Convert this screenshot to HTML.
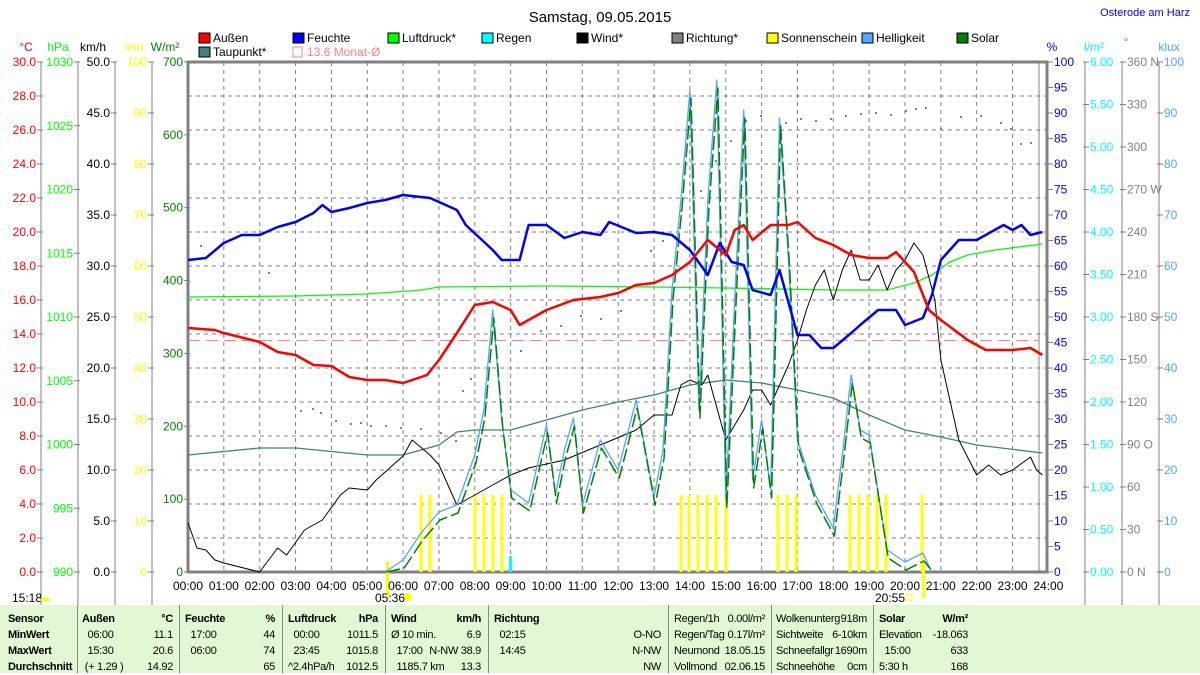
<!DOCTYPE html>
<html><head><meta charset="utf-8"><style>
body{margin:0;background:#fff;width:1200px;height:673px;overflow:hidden;font-family:"Liberation Sans",sans-serif}
svg{display:block}
text{font-family:"Liberation Sans",sans-serif;font-size:12px}
.tb{position:absolute;top:605px;left:0;width:1200px;height:68px;background:#e2f8d2}
.c{position:absolute;font-family:"Liberation Sans",sans-serif;font-size:11px;letter-spacing:-0.3px;line-height:16px;white-space:pre}
.b{font-weight:bold}
.sep{position:absolute;top:605px;height:68px;width:1px;background:#888}
</style></head><body>
<svg width="1200" height="605" viewBox="0 0 1200 605" style="position:absolute;top:0;left:0">
<text x="600" y="22" font-size="15" text-anchor="middle" style="font-size:15px">Samstag, 09.05.2015</text>
<text x="1190" y="16" fill="#0000ff" text-anchor="end" style="font-size:11px">Osterode am Harz</text>
<g font-size="12">
<rect x="199" y="33" width="11" height="10" fill="#f00" stroke="#000"/><text x="213" y="42">Außen</text>
<rect x="293" y="33" width="11" height="10" fill="#00f" stroke="#000"/><text x="307" y="42">Feuchte</text>
<rect x="388" y="33" width="11" height="10" fill="#0f0" stroke="#000"/><text x="402" y="42">Luftdruck*</text>
<rect x="482" y="33" width="11" height="10" fill="#0ff" stroke="#000"/><text x="496" y="42">Regen</text>
<rect x="577" y="33" width="11" height="10" fill="#000" stroke="#000"/><text x="591" y="42">Wind*</text>
<rect x="672" y="33" width="11" height="10" fill="#808080" stroke="#000"/><text x="686" y="42">Richtung*</text>
<rect x="767" y="33" width="11" height="10" fill="#ff0" stroke="#000"/><text x="781" y="42">Sonnenschein</text>
<rect x="862" y="33" width="11" height="10" fill="#4ea6ff" stroke="#000"/><text x="876" y="42">Helligkeit</text>
<rect x="957" y="33" width="11" height="10" fill="#008000" stroke="#000"/><text x="971" y="42">Solar</text>
<rect x="199" y="47" width="11" height="10" fill="#408080" stroke="#000"/><text x="213" y="56">Taupunkt*</text>
<rect x="293" y="47" width="9" height="10" fill="none" stroke="#ff8080"/><text x="307" y="56" fill="#ff8080">13.6 Monat-Ø</text>
</g>
<text x="26" y="51" fill="#f00" text-anchor="middle">°C</text>
<text x="58" y="51" fill="#0f0" text-anchor="middle">hPa</text>
<text x="93" y="51" text-anchor="middle">km/h</text>
<text x="134" y="51" fill="#ff0" text-anchor="middle">min</text>
<text x="165" y="51" fill="#008000" text-anchor="middle">W/m²</text>
<text x="1052" y="51" fill="#00f" text-anchor="middle">%</text>
<text x="1094" y="51" fill="#0ff" text-anchor="middle">l/m²</text>
<text x="1126" y="46" fill="#808080" text-anchor="middle">°</text>
<text x="1169" y="51" fill="#4ea6ff" text-anchor="middle">klux</text>
<g stroke="#808080" stroke-width="1">
<line x1="41" y1="62" x2="41" y2="605"/><line x1="78" y1="62" x2="78" y2="605"/><line x1="115" y1="62" x2="115" y2="605"/><line x1="152" y1="62" x2="152" y2="605"/>
<line x1="1085" y1="62" x2="1085" y2="605"/><line x1="1122" y1="62" x2="1122" y2="605"/><line x1="1159" y1="62" x2="1159" y2="605"/>
</g>
<g id="ticks" font-size="12"></g>
<g stroke="#808080" stroke-dasharray="4,4" id="grid"></g>
<rect x="188" y="62" width="859" height="510" fill="none" stroke="#808080" stroke-width="3"/>
<line x1="1039" y1="62" x2="1039" y2="572" stroke="#808080"/>
<line x1="188" y1="340.5" x2="1039" y2="340.5" stroke="#ff8080" stroke-dasharray="12,6"/>
<g id="dots" fill="#808080"></g>
<g id="bars" fill="#ff0"></g>
<rect x="509" y="556" width="3" height="16" fill="#0ff"/>
<g id="lines" fill="none"></g>
<g id="xl" font-size="12" text-anchor="middle"></g>
<text x="390" y="602" text-anchor="middle">05:36</text><circle cx="408" cy="597" r="4" fill="#ff0"/>
<text x="890" y="602" text-anchor="middle">20:55</text><rect x="906" y="594" width="6" height="6" fill="none" stroke="#ff0"/>
<text x="12" y="602">15:18</text><path d="M40 601 a5 4 0 0 1 10 0z" fill="#ff0"/>
</svg>
<div class="tb"></div>
<div class="sep" style="left:77px"></div><div class="sep" style="left:179px"></div><div class="sep" style="left:282px"></div><div class="sep" style="left:385px"></div><div class="sep" style="left:488px"></div><div class="sep" style="left:668px"></div><div class="sep" style="left:771px"></div><div class="sep" style="left:873px"></div>
<div class="c b" style="left:8px;top:611px">Sensor<br>MinWert<br>MaxWert<br>Durchschnitt</div>
<div class="c" style="left:82px;top:611px"><b>Außen</b><br>  06:00<br>  15:30<br> (+ 1.29 )</div>
<div class="c" style="left:123px;top:611px;text-align:right;width:50px"><b>°C</b><br>11.1<br>20.6<br>14.92</div>
<div class="c" style="left:185px;top:611px"><b>Feuchte</b><br>  17:00<br>  06:00</div>
<div class="c" style="left:227px;top:611px;text-align:right;width:48px"><b>%</b><br>44<br>74<br>65</div>
<div class="c" style="left:288px;top:611px"><b>Luftdruck</b><br>  00:00<br>  23:45<br>^2.4hPa/h</div>
<div class="c" style="left:327px;top:611px;text-align:right;width:51px"><b>hPa</b><br>1011.5<br>1015.8<br>1012.5</div>
<div class="c" style="left:391px;top:611px"><b>Wind</b><br>Ø 10 min.<br>  17:00<br>  1185.7 km</div>
<div class="c" style="left:408px;top:611px;text-align:right;width:73px"><b>km/h</b><br>6.9<br>N-NW 38.9<br>13.3</div>
<div class="c" style="left:494px;top:611px"><b>Richtung</b><br>  02:15<br>  14:45</div>
<div class="c" style="left:609px;top:611px;text-align:right;width:52px"><br>O-NO<br>N-NW<br>NW</div>
<div class="c" style="left:674px;top:611px">Regen/1h<br>Regen/Tag<br>Neumond<br>Vollmond</div>
<div class="c" style="left:715px;top:611px;text-align:right;width:50px">0.00l/m²<br>0.17l/m²<br>18.05.15<br>02.06.15</div>
<div class="c" style="left:776px;top:611px">Wolkenunterg<br>Sichtweite<br>Schneefallgr<br>Schneehöhe</div>
<div class="c" style="left:819px;top:611px;text-align:right;width:48px">918m<br>6-10km<br>1690m<br>0cm</div>
<div class="c" style="left:879px;top:611px"><b>Solar</b><br>Elevation<br>  15:00<br>5:30 h</div>
<div class="c" style="left:915px;top:611px;text-align:right;width:53px"><b>W/m²</b><br>-18.063<br>633<br>168</div>
<script>
var NS="http://www.w3.org/2000/svg";
function el(p,t,a,txt){var e=document.createElementNS(NS,t);for(var k in a)e.setAttribute(k,a[k]);if(txt!=null)e.textContent=txt;document.getElementById(p).appendChild(e);return e;}
var X=function(h){return 188+h*35.85};
for(var h=1;h<24;h++)el('grid','line',{x1:X(h),y1:62,x2:X(h),y2:572});
for(var y=96;y<572;y+=34)el('grid','line',{x1:188,y1:y,x2:1047,y2:y});
for(var h=0;h<=24;h++)el('xl','text',{x:X(h),y:590},(h<10?'0':'')+h+':00');
function ax(x,vals,col,top,bot){for(var i=0;i<vals.length;i++){var y=top+(bot-top)*i/(vals.length-1);el('ticks','line',{x1:x-4,y1:y,x2:x+2,y2:y,stroke:'#808080'});el('ticks','text',{x:x-5,y:y+4,fill:col,'text-anchor':'end'},vals[i]);}}
function rax(x,vals,col,top,bot){for(var i=0;i<vals.length;i++){var y=top+(bot-top)*i/(vals.length-1);el('ticks','line',{x1:x-2,y1:y,x2:x+4,y2:y,stroke:'#808080'});el('ticks','text',{x:x+5,y:y+4,fill:col},vals[i]);}}
var a=[];for(var v=30;v>=0;v-=2)a.push(v.toFixed(1));ax(41,a,'#f00',62,572);
a=[];for(var v=1030;v>=990;v-=5)a.push(v);ax(78,a,'#0f0',62,572);
a=[];for(var v=50;v>=0;v-=5)a.push(v.toFixed(1));ax(115,a,'#000',62,572);
a=[];for(var v=100;v>=0;v-=10)a.push(v);ax(152,a,'#ff0',62,572);
a=[];for(var v=700;v>=0;v-=100)a.push(v);ax(188,a,'#008000',62,572);
a=[];for(var v=100;v>=0;v-=5)a.push(v);rax(1049,a,'#00f',62,572);
a=[];for(var v=6;v>=0;v-=0.5)a.push(v.toFixed(2));rax(1085,a,'#0ff',62,572);
a=['360 N','330','300','270 W','240','210','180 S','150','120','90  O','60','30','0   N'];rax(1122,a,'#808080',62,572);
a=[];for(var v=100;v>=0;v-=10)a.push(v);rax(1159,a,'#4ea6ff',62,572);
function pl(pts,col,w,dash){var s=pts.map(function(p){return X(p[0]).toFixed(1)+','+p[1]}).join(' ');var o={points:s,stroke:col,'stroke-width':w,'stroke-linejoin':'round'};if(dash)o['stroke-dasharray']=dash;el('lines','polyline',o);}
function hm(s){var p=s.split(':');return +p[0]+p[1]/60;}
function P(arr){var r=[];for(var i=0;i<arr.length;i+=2)r.push([hm(arr[i]),arr[i+1]]);return r;}
pl(P(['0:00',455,'2:00',448,'3:00',448,'5:00',455,'6:00',455,'7:00',445,'7:30',432,'8:00',430,'9:00',430,'10:00',420,'11:00',410,'12:00',402,'13:00',395,'14:00',385,'15:00',380,'16:00',383,'17:00',390,'18:00',398,'19:00',415,'20:00',430,'21:00',437,'22:00',445,'23:50',453]),'#408080',1.3);
pl(P(['0:00',297,'3:00',296,'5:00',294,'6:30',290,'7:00',287,'10:00',286,'13:00',287,'15:00',288,'18:00',290,'19:30',290,'20:15',283,'20:45',275,'21:15',262,'21:45',255,'22:30',250,'23:50',244]),'#00ff00',1.3);
pl(P(['0:00',523,'0:15',548,'0:30',550,'0:45',560,'1:00',563,'2:00',572,'2:30',548,'2:45',555,'3:15',530,'3:45',520,'4:15',495,'4:30',488,'5:00',490,'5:15',480,'6:00',456,'6:15',440,'6:45',455,'7:00',465,'7:30',505,'8:30',485,'9:00',475,'9:30',468,'10:30',460,'11:30',445,'12:30',430,'13:00',415,'13:30',415,'13:45',385,'14:00',380,'14:20',385,'14:30',375,'15:00',440,'15:30',410,'15:45',390,'16:00',390,'16:15',405,'16:45',365,'17:00',340,'17:15',310,'17:30',285,'17:45',270,'18:00',300,'18:15',270,'18:30',250,'18:45',280,'19:00',280,'19:15',265,'19:30',290,'19:45',270,'20:00',260,'20:15',243,'20:30',255,'20:50',300,'21:00',360,'21:30',440,'22:00',475,'22:20',465,'22:40',475,'23:00',470,'23:30',457,'23:40',470,'23:50',475]),'#000',1);
var sol=P(['5:30',572,'6:00',560,'6:30',533,'7:00',512,'7:30',505,'8:00',455,'8:15',410,'8:30',310,'8:45',420,'9:00',490,'9:30',503,'10:00',425,'10:15',495,'10:30',450,'10:45',418,'11:00',505,'11:30',440,'12:00',470,'12:30',400,'13:00',497,'13:15',450,'13:30',290,'13:45',200,'14:00',90,'14:15',410,'14:30',200,'14:45',80,'15:00',500,'15:15',300,'15:30',110,'15:45',480,'16:00',420,'16:15',490,'16:30',118,'16:45',260,'17:00',440,'17:30',495,'18:00',528,'18:15',455,'18:30',375,'18:45',430,'19:00',435,'19:30',550,'20:00',562,'20:30',553,'20:45',572]);
pl(sol,'#4ea6ff',1.3);
pl(sol.map(function(p){return [p[0]+0.03,Math.min(572,p[1]+8)]}),'#008000',1.5,'14,4');
pl(P(['0:00',260,'0:30',258,'1:00',243,'1:30',235,'2:00',235,'2:30',227,'3:00',222,'3:30',213,'3:45',205,'4:00',212,'4:30',208,'5:00',203,'5:30',200,'6:00',195,'6:45',198,'7:30',210,'7:45',225,'8:30',250,'8:45',260,'9:15',260,'9:30',225,'10:00',225,'10:30',238,'11:00',232,'11:30',235,'11:45',222,'12:30',233,'13:00',232,'13:30',235,'14:00',250,'14:30',275,'14:50',243,'15:10',262,'15:30',265,'15:45',290,'16:15',295,'16:30',270,'17:00',335,'17:20',335,'17:40',348,'18:00',348,'18:30',333,'18:45',325,'19:15',310,'19:45',310,'20:00',325,'20:30',318,'20:45',295,'21:00',260,'21:30',240,'22:00',240,'22:30',230,'22:45',225,'23:00',230,'23:15',225,'23:30',235,'23:50',232]),'#0000ff',2.5);
pl(P(['0:00',328,'0:45',330,'1:00',333,'2:00',342,'2:30',352,'3:00',355,'3:30',365,'4:00',366,'4:30',377,'5:00',380,'5:30',380,'6:00',383,'6:40',375,'7:00',360,'7:30',333,'8:00',305,'8:30',302,'9:00',310,'9:15',325,'10:00',310,'10:45',300,'11:30',297,'12:00',293,'12:30',285,'13:00',283,'13:30',275,'14:00',262,'14:30',240,'15:00',255,'15:15',230,'15:30',225,'15:45',240,'16:15',225,'16:45',225,'17:00',222,'17:30',238,'18:00',245,'18:30',255,'19:00',258,'19:30',258,'19:45',252,'20:15',272,'20:40',310,'21:00',320,'21:45',340,'22:15',350,'23:00',350,'23:30',348,'23:50',355]),'#ff0000',2.5);
[421,430,475,484,493,502,681,689,698,707,716,726,778,787,796,850,859,868,877,886,922].forEach(function(x){el('bars','rect',{x:x-1.5,y:495,width:3,height:77});});
el('bars','rect',{x:386,y:562,width:3,height:36});
el('bars','rect',{x:922,y:562,width:3,height:36});
var d=[[300,410],[312,408],[320,412],[335,420],[350,423],[360,422],[370,425],[385,425],[400,427],[420,428],[440,432],[455,440],[462,390],[470,378],[520,350],[540,330],[560,325],[580,315],[600,318],[620,310],[650,250],[662,240],[680,210],[700,190],[715,160],[730,140],[745,120],[760,115],[785,122],[800,118],[815,120],[830,118],[845,115],[860,113],[875,112],[890,114],[905,110],[915,108],[925,107],[940,128],[960,116],[980,115],[1000,122],[1010,128],[1020,143],[1030,142],[268,272],[200,245]];
d.forEach(function(p){el('dots','rect',{x:p[0],y:p[1],width:2,height:2});});
</script>
</body></html>
